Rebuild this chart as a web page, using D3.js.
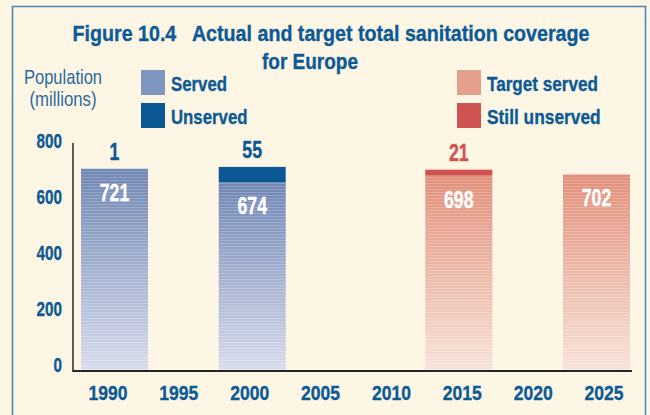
<!DOCTYPE html>
<html>
<head>
<meta charset="utf-8">
<script src="https://cdn.jsdelivr.net/npm/d3@7"></script>
<style>
  html, body { margin: 0; padding: 0; background: #fef6e4; }
  svg { display: block; }
  text { font-family: 'Liberation Sans', Arial, sans-serif; }
</style>
</head>
<body>
<svg id="chart" width="650" height="415"></svg>
<script>
// ---- data ----
const years = ["1990", "1995", "2000", "2005", "2010", "2015", "2020", "2025"];
const barYears = [1990, 2000, 2015, 2025];
const servedValues = [721, 674, 698, 702];
const unservedValues = [1, 55, 21, 0];
const barKind = ["actual", "actual", "target", "target"];
const yTicks = [0, 200, 400, 600, 800];
const legendLabels = ["Served", "Unserved", "Target served", "Still unserved"];
const titleLines = ["Figure 10.4   Actual and target total sanitation coverage", "for Europe"];
const yAxisTitle = ["Population", "(millions)"];

// ---- colours ----
const textBlue = "#0c5a95";
const colServed = "#7f97bf", colUnserved = "#0b5895";
const colTarget = "#e4a08a", colStill = "#cf5350";
const legendColors = [colServed, colUnserved, colTarget, colStill];

// condensed-font emulation: squeeze text horizontally
function squeeze(sel, k) {
  sel.each(function () {
    const L = this.getComputedTextLength();
    d3.select(this).attr("textLength", L * k).attr("lengthAdjust", "spacingAndGlyphs");
  });
  return sel;
}
function fitWidth(sel, w) {
  sel.attr("textLength", w).attr("lengthAdjust", "spacingAndGlyphs");
  return sel;
}
function heavy(sel, color) {
  return sel.attr("stroke", color).attr("stroke-width", 0.35).attr("paint-order", "stroke");
}

const svg = d3.select("#chart");

// background + frame
svg.append("rect").attr("x", 0).attr("y", 0).attr("width", 650).attr("height", 415).attr("fill", "#fef6e4");
svg.append("path")
  .attr("d", "M12.5,416 L12.5,6.5 L645.5,6.5 L645.5,416")
  .attr("fill", "none").attr("stroke", "#4f85b5").attr("stroke-width", 1.6);

// gradients and stripe pattern
const defs = svg.append("defs");
function grad(id, top, bottom) {
  const g = defs.append("linearGradient").attr("id", id)
    .attr("x1", 0).attr("y1", 0).attr("x2", 0).attr("y2", 1);
  g.append("stop").attr("offset", "0%").attr("stop-color", top);
  g.append("stop").attr("offset", "100%").attr("stop-color", bottom);
}
grad("gServed", "#7086b4", "#d8dcec");
grad("gTarget", "#e28f7a", "#f7e3da");
const pat = defs.append("pattern").attr("id", "stripes")
  .attr("patternUnits", "userSpaceOnUse").attr("width", 8).attr("height", 3);
pat.append("rect").attr("x", 0).attr("y", 0).attr("width", 8).attr("height", 1)
  .attr("fill", "#ffffff").attr("opacity", 0.2);

// scales
const y = d3.scaleLinear().domain([0, 800]).range([371, 147]);
const xLab = d3.scalePoint().domain(years).range([107.5, 603.5]);
const xBar = d3.scaleLinear().domain([1990, 2025]).range([114.5, 596.5]);
const barW = 67;

// title
heavy(fitWidth(svg.append("text").attr("x", 331).attr("y", 41).attr("text-anchor", "middle")
  .style("white-space", "pre")
  .attr("font-size", 22).attr("font-weight", "bold").attr("fill", textBlue)
  .text(titleLines[0]), 517), textBlue);
heavy(fitWidth(svg.append("text").attr("x", 310).attr("y", 69).attr("text-anchor", "middle")
  .attr("font-size", 22).attr("font-weight", "bold").attr("fill", textBlue)
  .text(titleLines[1]), 96), textBlue);

// y axis title
const yTitleW = [78, 67];
yAxisTitle.forEach((t, i) => {
  fitWidth(svg.append("text").attr("x", 63).attr("y", 84 + i * 22).attr("text-anchor", "middle")
    .attr("font-size", 21).attr("fill", "#2a68a0").text(t), yTitleW[i]);
});

// legend
const legPos = [[141, 70], [141, 103], [457, 70], [457, 103]];
const legW = [56, 76.5, 111, 113.7];
legendLabels.forEach((lab, i) => {
  const [lx, ly] = legPos[i];
  svg.append("rect").attr("x", lx).attr("y", ly).attr("width", 24).attr("height", 25)
    .attr("fill", legendColors[i]);
  heavy(fitWidth(svg.append("text").attr("x", lx + 30).attr("y", ly + 21)
    .attr("font-size", 21).attr("font-weight", "bold").attr("fill", textBlue).text(lab), legW[i]), textBlue);
});

// bars
const bars = barYears.map((yr, i) => ({
  year: yr, served: servedValues[i], unserved: unservedValues[i], kind: barKind[i]
}));
const g = svg.append("g");
bars.forEach(d => {
  const x0 = xBar(d.year) - barW / 2;
  const fill = d.kind === "actual" ? "url(#gServed)" : "url(#gTarget)";
  g.append("rect").attr("x", x0).attr("y", y(d.served))
    .attr("width", barW).attr("height", y(0) - y(d.served)).attr("fill", fill);
  g.append("rect").attr("x", x0).attr("y", y(d.served))
    .attr("width", barW).attr("height", y(0) - y(d.served)).attr("fill", "url(#stripes)");
  if (d.unserved > 0) {
    const c = d.kind === "actual" ? colUnserved : colStill;
    g.append("rect").attr("x", x0).attr("y", y(d.served + d.unserved))
      .attr("width", barW).attr("height", y(d.served) - y(d.served + d.unserved))
      .attr("fill", c);
    heavy(squeeze(g.append("text").attr("x", xBar(d.year)).attr("y", y(d.served + d.unserved) - 9)
      .attr("text-anchor", "middle").attr("font-size", 23).attr("font-weight", "bold")
      .attr("fill", c).text(d.unserved), 0.77), c);
  }
  heavy(squeeze(g.append("text").attr("x", xBar(d.year)).attr("y", y(d.served) + 32)
    .attr("text-anchor", "middle").attr("font-size", 23).attr("font-weight", "bold")
    .attr("fill", "#ffffff").text(d.served), 0.77), "#ffffff");
});

// y axis labels
const yAxis = svg.append("g").attr("transform", "translate(62,0)")
  .call(d3.axisLeft(y).tickValues(yTicks).tickSize(0).tickPadding(0));
yAxis.select(".domain").remove();
yAxis.attr("font-family", null);
heavy(squeeze(yAxis.selectAll("text").attr("dy", "0.05em").attr("font-size", 19.5).attr("font-weight", "bold")
  .attr("fill", textBlue), 0.78), textBlue);

// x axis labels
const xAxis = svg.append("g").attr("transform", "translate(0,400)")
  .call(d3.axisBottom(xLab).tickSize(0).tickPadding(0));
xAxis.select(".domain").remove();
xAxis.attr("font-family", null);
heavy(squeeze(xAxis.selectAll("text").attr("dy", 0).attr("font-size", 21).attr("font-weight", "bold")
  .attr("fill", textBlue), 0.835), textBlue);

// axis lines
svg.append("line").attr("x1", 73).attr("x2", 73).attr("y1", 143).attr("y2", 372)
  .attr("stroke", "#262626").attr("stroke-width", 1.5);
svg.append("line").attr("x1", 72.5).attr("x2", 632).attr("y1", y(0)).attr("y2", y(0))
  .attr("stroke", "#262626").attr("stroke-width", 2);
</script>
</body>
</html>
